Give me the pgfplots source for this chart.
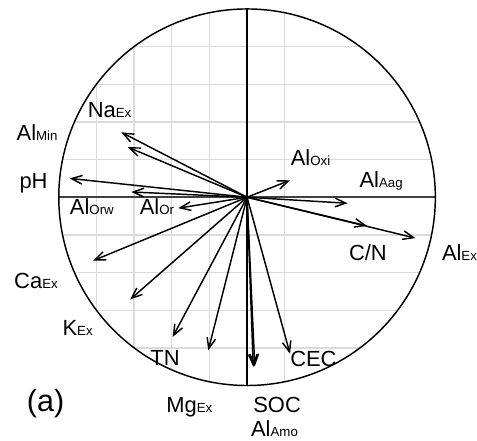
\documentclass[border=0pt]{standalone}
\usepackage{pgfplots}
\pgfplotsset{compat=1.18}
\usepackage{fontspec}
\setmainfont{Liberation Sans}
\usetikzlibrary{arrows.meta}
\newcommand\lab[2]{{\fontsize{16.5}{18}\selectfont #1}{\fontsize{10}{12}\selectfont #2}}
\begin{document}
\begin{tikzpicture}
\begin{axis}[scale only axis, width=357.75pt, height=331.5pt,
  xmin=-1.3122, xmax=1.2116, ymin=-1.2910, ymax=1.0476,
  axis line style={draw=none}, ticks=none, clip=false]
% grid clipped to the circle
\pgfplotsinvokeforeach{{-0.8/0.6},{-0.6/0.8},{-0.4/0.9165},{-0.2/0.9798},{0.2/0.9798}}{}
\addplot[gray!28, line width=1pt] coordinates {(-0.8,-0.6) (-0.8,0.6)};
\addplot[gray!28, line width=1pt] coordinates {(-0.6,-0.8) (-0.6,0.8)};
\addplot[gray!28, line width=1pt] coordinates {(-0.4,-0.9165) (-0.4,0.9165)};
\addplot[gray!28, line width=1pt] coordinates {(-0.2,-0.9798) (-0.2,0.9798)};
\addplot[gray!28, line width=1pt] coordinates {(0.2,-0.9798) (0.2,0.9798)};
\addplot[gray!28, line width=1pt] coordinates {(-0.9798,0.2) (0.9798,0.2)};
\addplot[gray!28, line width=1pt] coordinates {(-0.9165,0.4) (0.9165,0.4)};
\addplot[gray!28, line width=1pt] coordinates {(-0.8,0.6) (0.8,0.6)};
\addplot[gray!28, line width=1pt] coordinates {(-0.6,0.8) (0.6,0.8)};
\addplot[gray!28, line width=1pt] coordinates {(-0.9798,-0.2) (0.9798,-0.2)};
\addplot[gray!28, line width=1pt] coordinates {(-0.9165,-0.4) (0.9165,-0.4)};
\addplot[gray!28, line width=1pt] coordinates {(-0.8,-0.6) (0.8,-0.6)};
\addplot[gray!28, line width=1pt] coordinates {(-0.6,-0.8) (0.6,-0.8)};
% axes through the centre
\addplot[black!75, line width=1.5pt] coordinates {(-1,0) (1,0)};
\addplot[black, line width=1.2pt] coordinates {(0,-1) (0,1)};
\draw[black, line width=1.1pt] (axis cs:0,0) circle [radius=1];
% loading arrows
\pgfplotsset{arr/.style={black, line width=1.1pt, -{Straight Barb[length=8pt,width=6.5pt,line width=1.1pt]}}}
\addplot[arr] coordinates {(0,0) (-0.668,0.345)};
\addplot[arr] coordinates {(0,0) (-0.633,0.266)};
\addplot[arr] coordinates {(0,0) (-0.942,0.100)};
\addplot[arr] coordinates {(0,0) (-0.615,0.028)};
\addplot[arr] coordinates {(0,0) (-0.365,-0.058)};
\addplot[arr] coordinates {(0,0) (0.228,0.090)};
\addplot[arr] coordinates {(0,0) (0.534,-0.032)};
\addplot[arr] coordinates {(0,0) (0.637,-0.152)};
\addplot[arr] coordinates {(0,0) (0.894,-0.217)};
\addplot[arr] coordinates {(0,0) (-0.818,-0.337)};
\addplot[arr] coordinates {(0,0) (-0.621,-0.543)};
\addplot[arr] coordinates {(0,0) (-0.395,-0.742)};
\addplot[arr] coordinates {(0,0) (-0.206,-0.813)};
\addplot[arr] coordinates {(0,0) (0.033,-0.901)};
\addplot[arr] coordinates {(0,0) (0.041,-0.899)};
\addplot[arr] coordinates {(0,0) (0.228,-0.831)};
% labels
\tikzset{every node/.style={anchor=base west, inner sep=0pt}}
\node at (axis cs:-0.847,0.422) {\lab{Na}{Ex}};
\node at (axis cs:-1.225,0.303) {\lab{Al}{Min}};
\node at (axis cs:-1.210,0.044) {\lab{pH}{}};
\node at (axis cs:-0.942,-0.090) {\lab{Al}{Orw}};
\node at (axis cs:-0.571,-0.090) {\lab{Al}{Or}};
\node at (axis cs:0.231,0.171) {\lab{Al}{Oxi}};
\node at (axis cs:0.596,0.051) {\lab{Al}{Aag}};
\node at (axis cs:0.540,-0.337) {\lab{C/N}{}};
\node at (axis cs:1.034,-0.337) {\lab{Al}{Ex}};
\node at (axis cs:-1.238,-0.487) {\lab{Ca}{Ex}};
\node at (axis cs:-0.981,-0.734) {\lab{K}{Ex}};
\node at (axis cs:-0.515,-0.896) {\lab{TN}{}};
\node at (axis cs:-0.430,-1.143) {\lab{Mg}{Ex}};
\node at (axis cs:0.032,-1.143) {\lab{SOC}{}};
\node at (axis cs:0.020,-1.272) {\lab{Al}{Amo}};
\node at (axis cs:0.228,-0.898) {\lab{CEC}{}};
\node at (axis cs:-1.171,-1.139) {{\fontsize{23}{26}\selectfont (a)}};
\end{axis}
\end{tikzpicture}
\end{document}
